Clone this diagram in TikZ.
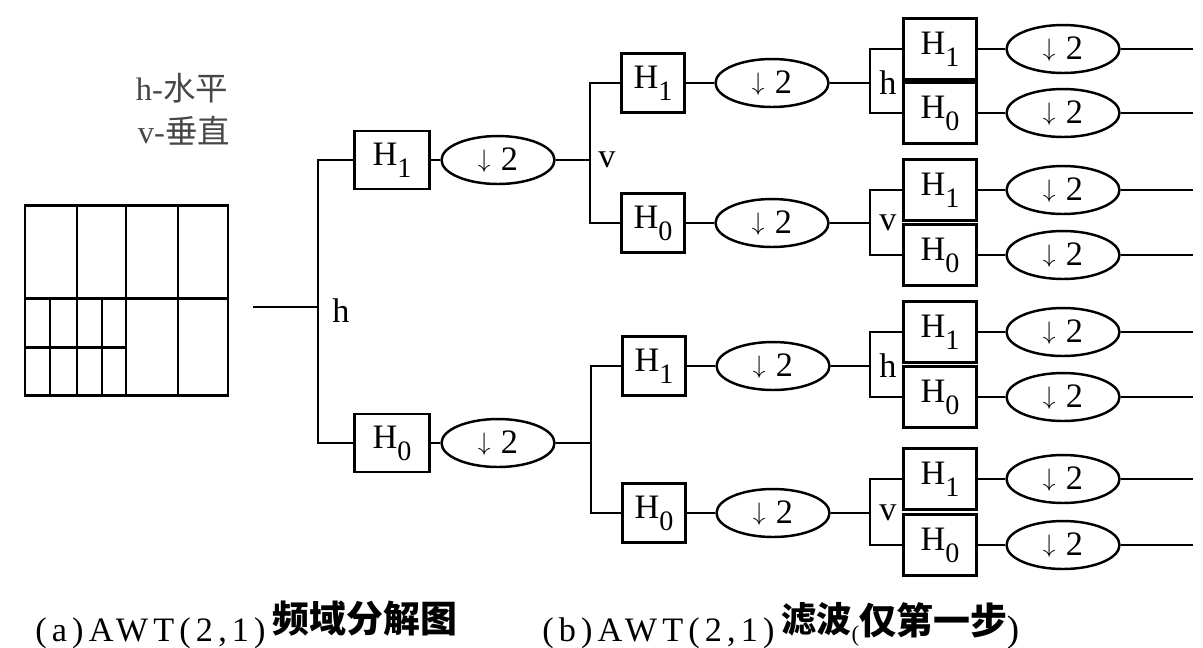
\documentclass[tikz,border=0pt]{standalone}
\usepackage{fontspec}
\setmainfont{Liberation Serif}
\newfontfamily\cjk{Noto Sans CJK SC}
\newfontfamily\capfont[LetterSpace=15]{Liberation Serif}
\usetikzlibrary{shapes.geometric}
\definecolor{labgray}{rgb}{0.28,0.28,0.28}
\newcommand\sbs[1]{\raisebox{-0.35em}{\fontsize{16}{16}\selectfont #1}}
\newcommand\dtwo{\raisebox{0.08em}{\fontsize{15}{15}\selectfont$\downarrow$}\hspace{0.3em}2}
\tikzset{
  x=0.02cm, y=-0.02cm,
  every node/.style={font=\fontsize{19.5}{22}\selectfont},
  wire/.style={line width=1.4pt},
  gridline/.style={line width=1.7pt},
  boxA/.style={draw, line width=1.5pt, minimum width=1.5cm, minimum height=1.16cm, inner sep=0pt},
  boxB/.style={draw, line width=1.5pt, minimum width=1.26cm, minimum height=1.18cm, inner sep=0pt},
  boxC/.style={draw, line width=1.5pt, minimum width=1.46cm, minimum height=1.22cm, inner sep=0pt},
  dn/.style={draw, ellipse, line width=1.4pt, minimum width=2.26cm, minimum height=0.96cm, inner sep=0pt},
  lab/.style={inner sep=0pt},
}
% level-3 group: #1 prefix, #2 source node, #3 label, #4 y source, #5 y upper, #6 y lower
\newcommand\grp[6]{
  \coordinate (#1j) at (870,#4);
  \node[boxC] (#1H1) at (940,#5) {H\sbs{1}};
  \node[boxC] (#1H0) at (940,#6) {H\sbs{0}};
  \node[dn] (#1E1) at (1063,#5) {\dtwo};
  \node[dn] (#1E0) at (1063,#6) {\dtwo};
  \coordinate (#1o1) at (1193,#5);
  \coordinate (#1o0) at (1193,#6);
  \node[lab] (#1lab) at (888,#4) {#3};
  \draw[wire] (#2) -- (#1j);
  \draw[wire] (#1H1.west) -- (#1H1.west -| #1j) -- (#1H0.west -| #1j) -- (#1H0.west);
  \draw[wire] (#1H1) -- (#1E1);
  \draw[wire] (#1H0) -- (#1E0);
  \draw[wire] (#1E1) -- (#1o1);
  \draw[wire] (#1E0) -- (#1o0);
}
\begin{document}
\begin{tikzpicture}
\useasboundingbox (0,0) rectangle (1203,647);

% legend
\node[lab, text=labgray, font=\fontsize{18.5}{22}\selectfont] (legh) at (182,88) {h-{\cjk 水平}};
\node[lab, text=labgray, font=\fontsize{18.5}{22}\selectfont] (legv) at (184,131) {v-{\cjk 垂直}};

% frequency grid
\draw[gridline] (25,205) rectangle (228,395);
\draw[gridline] (77,205) -- (77,395);
\draw[gridline] (126,205) -- (126,395);
\draw[gridline] (178,205) -- (178,395);
\draw[gridline] (25,298) -- (228,298);
\draw[gridline] (50,298) -- (50,395);
\draw[gridline] (102,298) -- (102,395);
\draw[gridline] (25,347) -- (126,347);

% level 1
\coordinate (in0) at (253,307);
\coordinate (j0) at (318,307);
\node[boxA] (A1) at (392,160) {H\sbs{1}};
\node[boxA] (A0) at (392,443) {H\sbs{0}};
\node[dn] (A1e) at (498,160) {\dtwo};
\node[dn] (A0e) at (498,443) {\dtwo};
\node[lab] (lh0) at (341,311) {h};
\draw[wire] (in0) -- (j0);
\draw[wire] (A1.west) -- (A1.west -| j0) -- (A0.west -| j0) -- (A0.west);
\draw[wire] (A1) -- (A1e);
\draw[wire] (A0) -- (A0e);

% level 2, upper
\coordinate (j1) at (590,160);
\node[boxB] (B11) at (653,83) {H\sbs{1}};
\node[boxB] (B10) at (653,223) {H\sbs{0}};
\node[dn] (B11e) at (772,83) {\dtwo};
\node[dn] (B10e) at (772,223) {\dtwo};
\node[lab] (lv1) at (607,160) {v};
\draw[wire] (A1e) -- (j1);
\draw[wire] (B11.west) -- (B11.west -| j1) -- (B10.west -| j1) -- (B10.west);
\draw[wire] (B11) -- (B11e);
\draw[wire] (B10) -- (B10e);

% level 2, lower
\coordinate (j2) at (591,443);
\node[boxB] (B01) at (654,366) {H\sbs{1}};
\node[boxB] (B00) at (654,513) {H\sbs{0}};
\node[dn] (B01e) at (773,366) {\dtwo};
\node[dn] (B00e) at (773,513) {\dtwo};
\draw[wire] (A0e) -- (j2);
\draw[wire] (B01.west) -- (B01.west -| j2) -- (B00.west -| j2) -- (B00.west);
\draw[wire] (B01) -- (B01e);
\draw[wire] (B00) -- (B00e);

% level 3
\grp{g1}{B11e}{h}{83}{49}{113}
\grp{g2}{B10e}{v}{223}{190}{255}
\grp{g3}{B01e}{h}{366}{332}{397}
\grp{g4}{B00e}{v}{513}{479}{545}

% captions
\node[lab, anchor=base west] (capa) at (35,641)
  {{\fontsize{19.5}{22}\capfont (a)AWT(2,1)}\hspace{0.2em}\raisebox{0.25em}{\fontsize{21}{22}\cjk\bfseries 频域分解图}};
\node[lab, anchor=base west] (capb) at (542,641)
  {{\fontsize{19.5}{22}\capfont (b)AWT(2,1)}\hspace{0.2em}\raisebox{0.25em}{\fontsize{20}{22}\cjk\bfseries 滤波}{\fontsize{13}{14}\selectfont (}\raisebox{0.2em}{\fontsize{21}{22}\cjk\bfseries 仅第一步}{\fontsize{21}{22}\selectfont )}};
\end{tikzpicture}
\end{document}
